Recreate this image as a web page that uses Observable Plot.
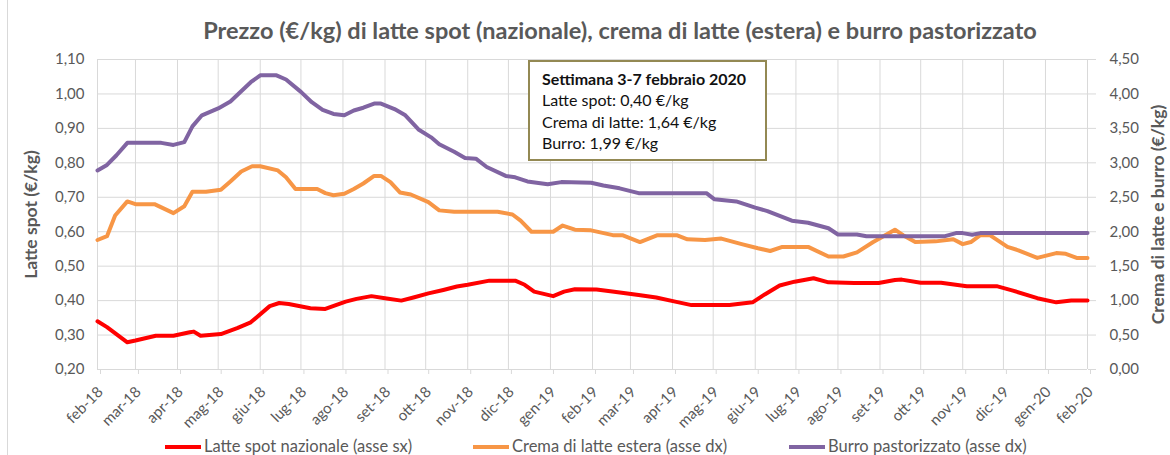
<!DOCTYPE html>
<html>
<head>
<meta charset="utf-8">
<script src="https://cdn.jsdelivr.net/npm/d3@7"></script>
<script src="https://cdn.jsdelivr.net/npm/@observablehq/plot@0.6"></script>
<style>
  html, body { margin: 0; padding: 0; background: #fff; }
  body { width: 1170px; height: 455px; position: relative; overflow: hidden; font-family: Lato, "Open Sans", sans-serif; }
  #frame { position: absolute; left: 7px; top: 0; width: 0; height: 455px; border-left: 1px solid #d9d9d9; }
  #title { position: absolute; left: 0; top: 15px; width: 1240px; text-align: center; font-size: 23.5px; font-weight: bold; color: #595959; line-height: 30px; }
  #chart { position: absolute; left: 0; top: 45px; }
  #note { position: absolute; left: 528px; top: 60px; width: 223px; height: 91px; border: 2px solid #938953; background: #fff; padding: 6px 0 0 12px; box-sizing: content-box; color: #111; font-size: 16px; line-height: 21.3px; }
  #note b { font-weight: bold; }
  #legend { position: absolute; left: 0; top: 437px; width: 1170px; height: 18px; font-size: 16.5px; color: #595959; }
  .item { position: absolute; top: 0; line-height: 18px; white-space: nowrap; }
  .swatch { display: inline-block; width: 36px; height: 4px; vertical-align: middle; margin-right: 3px; position: relative; top: -1px; }
</style>
</head>
<body>
<div id="frame"></div>
<div id="title"></div>
<div id="chart"></div>
<div id="note"></div>
<div id="legend"></div>
<script>
// ---------- DATA ----------
const titleText = "Prezzo (€/kg) di latte spot (nazionale), crema di latte (estera) e burro pastorizzato";
const leftAxisLabel = "Latte spot (€/kg)";
const rightAxisLabel = "Crema di latte e burro (€/kg)";
const seriesNames = ["Latte spot nazionale (asse sx)", "Crema di latte estera (asse dx)", "Burro pastorizzato (asse dx)"];
const seriesColors = ["#ff0000", "#f79646", "#8064a2"];
const noteLines = ["Settimana 3-7 febbraio 2020", "Latte spot: 0,40 €/kg", "Crema di latte: 1,64 €/kg", "Burro: 1,99 €/kg"];

const xTickLabels = ["feb-18","mar-18","apr-18","mag-18","giu-18","lug-18","ago-18","set-18","ott-18","nov-18","dic-18","gen-19",
  "feb-19","mar-19","apr-19","mag-19","giu-19","lug-19","ago-19","set-19","ott-19","nov-19","dic-19","gen-20","feb-20"];
const leftTicks = [0.2, 0.3, 0.4, 0.5, 0.6, 0.7, 0.8, 0.9, 1.0, 1.1];
const rightTicks = [0, 0.5, 1.0, 1.5, 2.0, 2.5, 3.0, 3.5, 4.0, 4.5];

// Latte spot nazionale (left axis)
const latteDates = ["2018-02-01","2018-02-08","2018-02-23","2018-03-01","2018-03-16","2018-03-29","2018-04-10","2018-04-13","2018-04-18",
  "2018-05-03","2018-05-15","2018-05-25","2018-06-08","2018-06-15","2018-06-22","2018-07-08","2018-07-19","2018-08-03","2018-08-11",
  "2018-08-22","2018-09-01","2018-09-13","2018-09-22","2018-10-03","2018-10-14","2018-10-24","2018-11-01","2018-11-17","2018-12-06",
  "2018-12-13","2018-12-20","2019-01-03","2019-01-11","2019-01-19","2019-02-04","2019-02-17","2019-03-07","2019-03-20","2019-04-03",
  "2019-04-15","2019-05-13","2019-05-30","2019-06-08","2019-06-19","2019-06-30","2019-07-14","2019-07-25","2019-08-13","2019-08-31",
  "2019-09-12","2019-09-17","2019-10-01","2019-10-16","2019-11-04","2019-11-26","2019-12-08","2019-12-26","2020-01-09","2020-01-20","2020-02-01"];
const latteValues = [0.340,0.323,0.279,0.284,0.298,0.298,0.308,0.310,0.298,
  0.303,0.320,0.337,0.384,0.393,0.390,0.378,0.376,0.397,0.405,
  0.413,0.407,0.400,0.409,0.421,0.431,0.441,0.446,0.458,0.458,
  0.446,0.426,0.413,0.426,0.433,0.432,0.426,0.416,0.409,0.397,
  0.387,0.387,0.395,0.418,0.444,0.455,0.465,0.453,0.451,0.451,
  0.460,0.461,0.452,0.452,0.442,0.442,0.429,0.407,0.395,0.400,0.400];

// Crema di latte estera (right axis)
const cremaDates = ["2018-02-01","2018-02-08","2018-02-14","2018-02-23","2018-03-01","2018-03-15","2018-03-29","2018-04-06","2018-04-12",
  "2018-04-22","2018-05-03","2018-05-10","2018-05-18","2018-05-26","2018-06-01","2018-06-14","2018-06-20","2018-06-27","2018-07-13",
  "2018-07-19","2018-07-25","2018-08-02","2018-08-09","2018-08-16","2018-08-24","2018-08-29","2018-09-05","2018-09-12","2018-09-20",
  "2018-10-03","2018-10-11","2018-10-22","2018-11-23","2018-12-04","2018-12-10","2018-12-18","2019-01-03","2019-01-10","2019-01-19",
  "2019-01-31","2019-02-16","2019-02-23","2019-03-08","2019-03-21","2019-04-04","2019-04-12","2019-04-25","2019-05-07","2019-05-22",
  "2019-06-03","2019-06-12","2019-06-21","2019-07-10","2019-07-25","2019-08-05","2019-08-15","2019-08-27","2019-09-12","2019-09-18",
  "2019-09-27","2019-10-12","2019-10-25","2019-11-01","2019-11-07","2019-11-14","2019-11-21","2019-12-04","2019-12-12","2019-12-26",
  "2020-01-09","2020-01-16","2020-01-24","2020-02-01"];
const cremaValues = [1.88,1.935,2.235,2.44,2.40,2.40,2.27,2.37,2.58,
  2.58,2.61,2.73,2.875,2.95,2.95,2.89,2.79,2.62,2.62,
  2.56,2.53,2.55,2.62,2.70,2.81,2.81,2.72,2.57,2.54,
  2.43,2.31,2.29,2.29,2.25,2.16,2.00,2.00,2.09,2.03,
  2.02,1.95,1.95,1.85,1.95,1.95,1.89,1.88,1.90,1.82,
  1.76,1.72,1.78,1.78,1.64,1.64,1.70,1.85,2.03,1.95,
  1.85,1.86,1.89,1.82,1.85,1.95,1.95,1.78,1.73,1.62,
  1.69,1.68,1.62,1.62];

// Burro pastorizzato (right axis)
const burroDates = ["2018-02-01","2018-02-08","2018-02-15","2018-02-23","2018-03-20","2018-03-29","2018-04-06","2018-04-12","2018-04-19",
  "2018-05-01","2018-05-10","2018-05-17","2018-05-25","2018-06-01","2018-06-13","2018-06-20","2018-07-01","2018-07-09","2018-07-17",
  "2018-07-25","2018-08-02","2018-08-09","2018-08-16","2018-08-24","2018-08-29","2018-09-08","2018-09-16","2018-09-26","2018-10-05",
  "2018-10-11","2018-10-22","2018-10-30","2018-11-07","2018-11-15","2018-11-29","2018-12-06","2018-12-15","2018-12-30","2019-01-09",
  "2019-01-31","2019-02-09","2019-02-21","2019-03-07","2019-04-26","2019-05-02","2019-05-18","2019-06-01","2019-06-10","2019-06-28",
  "2019-07-10","2019-07-25","2019-08-01","2019-08-15","2019-08-22","2019-10-19","2019-10-27","2019-11-01","2019-11-08","2019-11-14","2020-02-01"];
const burroValues = [2.89,2.97,3.11,3.29,3.29,3.26,3.30,3.53,3.69,
  3.79,3.89,4.02,4.17,4.27,4.27,4.21,4.03,3.88,3.77,
  3.71,3.69,3.76,3.80,3.86,3.86,3.78,3.69,3.48,3.37,
  3.27,3.16,3.07,3.06,2.94,2.81,2.79,2.73,2.69,2.72,
  2.71,2.67,2.63,2.56,2.56,2.47,2.44,2.35,2.30,2.16,
  2.13,2.05,1.96,1.96,1.935,1.935,1.98,1.98,1.955,1.98,1.98];

// ---------- BUILD ----------
const parse = d3.utcParse("%Y-%m-%d");
const start = parse("2018-02-01"), end = parse("2020-02-01");
const monthTicks = xTickLabels.map((_, i) => d3.utcMonth.offset(start, i));
const toLeft = v => v / 5 + 0.2; // right axis (0–4.5) mapped onto left axis (0.2–1.1)
const fmt = v => v.toFixed(2).replace(".", ",");
const mk = (dates, values) => dates.map((d, i) => ({date: parse(d), value: values[i]}));
const latte = mk(latteDates, latteValues);
const crema = mk(cremaDates, cremaValues);
const burro = mk(burroDates, burroValues);

document.getElementById("title").textContent = titleText;

const chart = Plot.plot({
  width: 1170,
  height: 385,
  marginLeft: 97,
  marginRight: 83,
  marginTop: 14,
  marginBottom: 61,
  style: {fontFamily: "Lato, 'Open Sans', sans-serif", color: "#595959", background: "transparent", overflow: "visible"},
  x: {type: "utc", domain: [start, end]},
  y: {domain: [0.2, 1.1]},
  marks: [
    Plot.gridX(monthTicks, {stroke: "#d9d9d9", strokeOpacity: 1, strokeWidth: 1}),
    Plot.gridY(leftTicks, {stroke: "#d9d9d9", strokeOpacity: 1, strokeWidth: 1}),
    Plot.axisY(leftTicks, {anchor: "left", tickSize: 0, tickPadding: 13, tickFormat: fmt, fontSize: 15, label: null}),
    Plot.axisY(rightTicks.map(toLeft), {anchor: "right", tickSize: 8, stroke: "#d9d9d9", tickPadding: 14, fontSize: 15,
      tickFormat: (d) => fmt(rightTicks[leftTicks.findIndex(t => Math.abs(t - d) < 1e-9)]), label: null}),
    Plot.axisX(monthTicks, {anchor: "bottom", tickSize: 5, stroke: "#d9d9d9", tickRotate: -45, tickPadding: 15, dx: 3, fontSize: 15,
      tickFormat: d => xTickLabels[d3.utcMonth.count(start, d)], label: null}),
    Plot.text([leftAxisLabel], {frameAnchor: "left", rotate: -90, dx: -66, fontSize: 17.5, fontWeight: "bold", fill: "#595959", textAnchor: "middle"}),
    Plot.text([rightAxisLabel], {frameAnchor: "right", rotate: -90, dx: 71, fontSize: 17.5, fontWeight: "bold", fill: "#595959", textAnchor: "middle"}),
    Plot.line(latte, {x: "date", y: "value", stroke: seriesColors[0], strokeWidth: 4, strokeLinejoin: "round", strokeLinecap: "round"}),
    Plot.line(crema, {x: "date", y: d => toLeft(d.value), stroke: seriesColors[1], strokeWidth: 4, strokeLinejoin: "round", strokeLinecap: "round"}),
    Plot.line(burro, {x: "date", y: d => toLeft(d.value), stroke: seriesColors[2], strokeWidth: 4, strokeLinejoin: "round", strokeLinecap: "round"})
  ]
});
document.getElementById("chart").appendChild(chart);

const note = document.getElementById("note");
noteLines.forEach((t, i) => {
  const div = document.createElement("div");
  if (i === 0) { const b = document.createElement("b"); b.textContent = t; div.appendChild(b); }
  else div.textContent = t;
  note.appendChild(div);
});

const legend = document.getElementById("legend");
const legendX = [165, 473, 789];
seriesNames.forEach((name, i) => {
  const item = document.createElement("div");
  item.className = "item";
  item.style.left = legendX[i] + "px";
  const sw = document.createElement("span");
  sw.className = "swatch";
  sw.style.background = seriesColors[i];
  item.appendChild(sw);
  item.appendChild(document.createTextNode(name));
  legend.appendChild(item);
});
</script>
</body>
</html>
